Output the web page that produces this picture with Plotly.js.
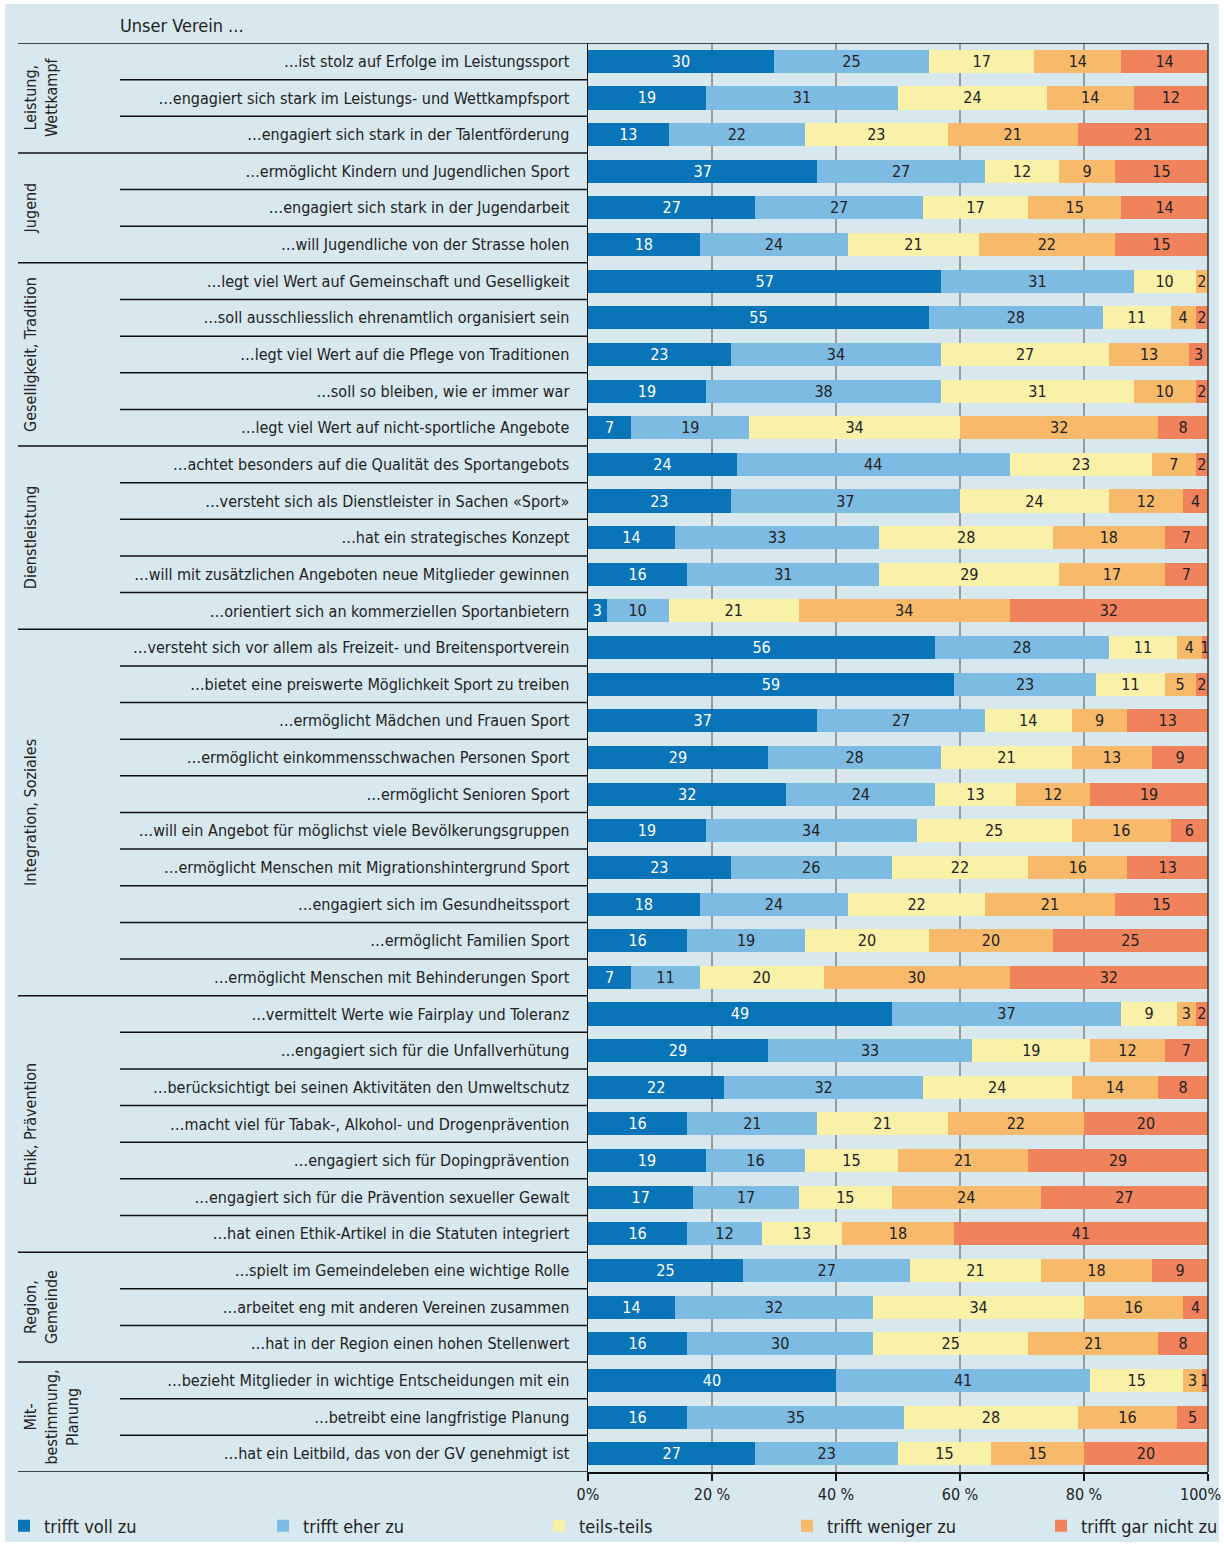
<!DOCTYPE html>
<html>
<head>
<meta charset="utf-8">
<script src="https://cdn.plot.ly/plotly-3.0.1.min.js"></script>
<style>
  html, body { margin: 0; padding: 0; background: #ffffff; }
  #chart { position: absolute; left: 0; top: 0; width: 1224px; height: 1546px; }
</style>
</head>
<body>
<div id="chart"></div>
<script>
const statements = [
  "…ist stolz auf Erfolge im Leistungssport",
  "…engagiert sich stark im Leistungs- und Wettkampfsport",
  "…engagiert sich stark in der Talentförderung",
  "…ermöglicht Kindern und Jugendlichen Sport",
  "…engagiert sich stark in der Jugendarbeit",
  "…will Jugendliche von der Strasse holen",
  "…legt viel Wert auf Gemeinschaft und Geselligkeit",
  "…soll ausschliesslich ehrenamtlich organisiert sein",
  "…legt viel Wert auf die Pflege von Traditionen",
  "…soll so bleiben, wie er immer war",
  "…legt viel Wert auf nicht-sportliche Angebote",
  "…achtet besonders auf die Qualität des Sportangebots",
  "…versteht sich als Dienstleister in Sachen «Sport»",
  "…hat ein strategisches Konzept",
  "…will mit zusätzlichen Angeboten neue Mitglieder gewinnen",
  "…orientiert sich an kommerziellen Sportanbietern",
  "…versteht sich vor allem als Freizeit- und Breitensportverein",
  "…bietet eine preiswerte Möglichkeit Sport zu treiben",
  "…ermöglicht Mädchen und Frauen Sport",
  "…ermöglicht einkommensschwachen Personen Sport",
  "…ermöglicht Senioren Sport",
  "…will ein Angebot für möglichst viele Bevölkerungsgruppen",
  "…ermöglicht Menschen mit Migrationshintergrund Sport",
  "…engagiert sich im Gesundheitssport",
  "…ermöglicht Familien Sport",
  "…ermöglicht Menschen mit Behinderungen Sport",
  "…vermittelt Werte wie Fairplay und Toleranz",
  "…engagiert sich für die Unfallverhütung",
  "…berücksichtigt bei seinen Aktivitäten den Umweltschutz",
  "…macht viel für Tabak-, Alkohol- und Drogenprävention",
  "…engagiert sich für Dopingprävention",
  "…engagiert sich für die Prävention sexueller Gewalt",
  "…hat einen Ethik-Artikel in die Statuten integriert",
  "…spielt im Gemeindeleben eine wichtige Rolle",
  "…arbeitet eng mit anderen Vereinen zusammen",
  "…hat in der Region einen hohen Stellenwert",
  "…bezieht Mitglieder in wichtige Entscheidungen mit ein",
  "…betreibt eine langfristige Planung",
  "…hat ein Leitbild, das von der GV genehmigt ist"
];

const trifftVollZu     = [30,19,13,37,27,18,57,55,23,19, 7,24,23,14,16, 3,56,59,37,29,32,19,23,18,16, 7,49,29,22,16,19,17,16,25,14,16,40,16,27];
const trifftEherZu     = [25,31,22,27,27,24,31,28,34,38,19,44,37,33,31,10,28,23,27,28,24,34,26,24,19,11,37,33,32,21,16,17,12,27,32,30,41,35,23];
const teilsTeils       = [17,24,23,12,17,21,10,11,27,31,34,23,24,28,29,21,11,11,14,21,13,25,22,22,20,20, 9,19,24,21,15,15,13,21,34,25,15,28,15];
const trifftWenigerZu  = [14,14,21, 9,15,22, 2, 4,13,10,32, 7,12,18,17,34, 4, 5, 9,13,12,16,16,21,20,30, 3,12,14,22,21,24,18,18,16,21, 3,16,15];
const trifftGarNichtZu = [14,12,21,15,14,15, 0, 2, 3, 2, 8, 2, 4, 7, 7,32, 1, 2,13, 9,19, 6,13,15,25,32, 2, 7, 8,20,29,27,41, 9, 4, 8, 1, 5,20];

const seriesNames = ["trifft voll zu","trifft eher zu","teils-teils","trifft weniger zu","trifft gar nicht zu"];
const seriesValues = [trifftVollZu, trifftEherZu, teilsTeils, trifftWenigerZu, trifftGarNichtZu];

const groupNames = ["Leistung,<br>Wettkampf","Jugend","Geselligkeit, Tradition","Dienstleistung","Integration, Soziales","Ethik, Prävention","Region,<br>Gemeinde","Mit-<br>bestimmung,<br>Planung"];
const groupSizes = [3,3,5,5,10,7,3,3];

const xTickVals = [0,20,40,60,80,100];
const xTickText = ["0%","20 %","40 %","60 %","80 %","100%"];

const colors = ["#0a74b8","#7dbbe2","#faf1a9","#f7b96a","#f0825c"];
const textColors = ["#ffffff","#222222","#222222","#222222","#222222"];
const bg = "#d8e8ef";
const FONT = "'Liberation Sans Narrow', 'DejaVu Sans Condensed', 'Arial Narrow', sans-serif";

// layout geometry (pixels in the page)
const W = 1224, H = 1546;
const ML = 588, MR = 16, MT = 43, MB = 74;
const PW = W - ML - MR, PH = H - MT - MB;
const px = x => (x - ML) / PW;          // page px -> paper x
const py = y => (H - MB - y) / PH;      // page px -> paper y

const idx = statements.map((_, i) => i);
const legendIds = ["legend","legend2","legend3","legend4","legend5"];
const legendLeft = [4, 263, 539, 787, 1041];

const traces = seriesValues.map((vals, s) => ({
  type: "bar",
  orientation: "h",
  name: seriesNames[s],
  legend: legendIds[s],
  x: vals,
  y: idx,
  marker: { color: colors[s], line: { width: 0 } },
  text: vals.map(v => v > 0 ? String(v) : ""),
  textposition: "inside",
  insidetextanchor: "middle",
  textangle: 0,
  constraintext: "none",
  textfont: { family: FONT, size: 16, color: textColors[s] },
  hoverinfo: "skip",
  cliponaxis: false
}));

const shapes = [];
// light blue panel with a thin white frame
shapes.push({ type: "rect", xref: "paper", yref: "paper", layer: "below",
  x0: px(5), x1: px(1219), y0: py(1542), y1: py(4), fillcolor: bg, line: { width: 0 } });
const groupX0 = px(18), rowX0 = px(120);
shapes.push({ type: "line", xref: "paper", yref: "y", x0: groupX0, x1: 1, y0: -0.5, y1: -0.5, line: { color: "#111", width: 1.5 } });
shapes.push({ type: "line", xref: "paper", yref: "y", x0: 1, x1: 1, y0: -0.5, y1: statements.length - 0.5, line: { color: "#333", width: 1.5 } });
let start = 0;
const groupEnds = new Set();
groupSizes.forEach(n => { start += n; groupEnds.add(start); });
for (let i = 1; i <= statements.length; i++) {
  const isGroup = groupEnds.has(i);
  shapes.push({ type: "line", xref: "paper", yref: "y",
    x0: isGroup ? groupX0 : rowX0, x1: 0, y0: i - 0.5, y1: i - 0.5,
    line: { color: "#111", width: 1.5 } });
}

const annotations = [];
annotations.push({ xref: "paper", yref: "paper", x: px(118), y: py(26), xanchor: "left", yanchor: "middle",
  text: "Unser Verein ...", showarrow: false, font: { family: FONT, size: 18, color: "#222" } });
let s0 = 0;
groupSizes.forEach((n, g) => {
  const center = s0 + (n - 1) / 2;
  annotations.push({ xref: "paper", yref: "y", x: px(19), y: center, xanchor: "left", yanchor: "middle",
    text: groupNames[g], textangle: -90, showarrow: false, align: "center",
    font: { family: FONT, size: 16, color: "#222" } });
  s0 += n;
});
// last x tick label, set slightly left so it stays inside the page
annotations.push({ xref: "x", yref: "paper", x: xTickVals[5], y: py(1494), xanchor: "center", yanchor: "middle",
  xshift: -8, text: xTickText[5], showarrow: false, font: { family: FONT, size: 16, color: "#222" } });

const layout = {
  width: W, height: H,
  margin: { l: ML, r: MR, t: MT, b: MB, pad: 0, autoexpand: false },
  paper_bgcolor: "#ffffff",
  plot_bgcolor: "rgba(0,0,0,0)",
  barmode: "stack",
  bargap: 0.37,
  font: { family: FONT, color: "#222" },
  showlegend: true,
  xaxis: {
    range: [0, 100],
    tickvals: xTickVals, ticktext: xTickText.map((t, i) => i === 5 ? "" : t),
    showgrid: true, gridcolor: "#9a9a9a", gridwidth: 1.3,
    zeroline: false,
    showline: true, linecolor: "#111", linewidth: 1.5,
    ticks: "outside", ticklen: 7, tickcolor: "#111", tickwidth: 1.5,
    tickfont: { family: FONT, size: 16, color: "#222" },
    automargin: false,
    fixedrange: true
  },
  yaxis: {
    range: [statements.length - 0.5, -0.5],
    tickvals: idx, ticktext: statements,
    showgrid: false, zeroline: false,
    showline: true, linecolor: "#111", linewidth: 1.5,
    ticks: "", ticklabelstandoff: 14,
    tickfont: { family: FONT, size: 16, color: "#222" },
    automargin: false,
    fixedrange: true
  },
  shapes: shapes,
  annotations: annotations
};

legendIds.forEach((id, s) => {
  layout[id] = {
    orientation: "h",
    x: px(legendLeft[s]), y: py(1526), xanchor: "left", yanchor: "middle",
    font: { family: FONT, size: 18, color: "#222" },
    bgcolor: "rgba(0,0,0,0)",
    borderwidth: 0,
    itemclick: false, itemdoubleclick: false
  };
});

Plotly.newPlot("chart", traces, layout, { displayModeBar: false, staticPlot: true });
</script>
</body>
</html>
